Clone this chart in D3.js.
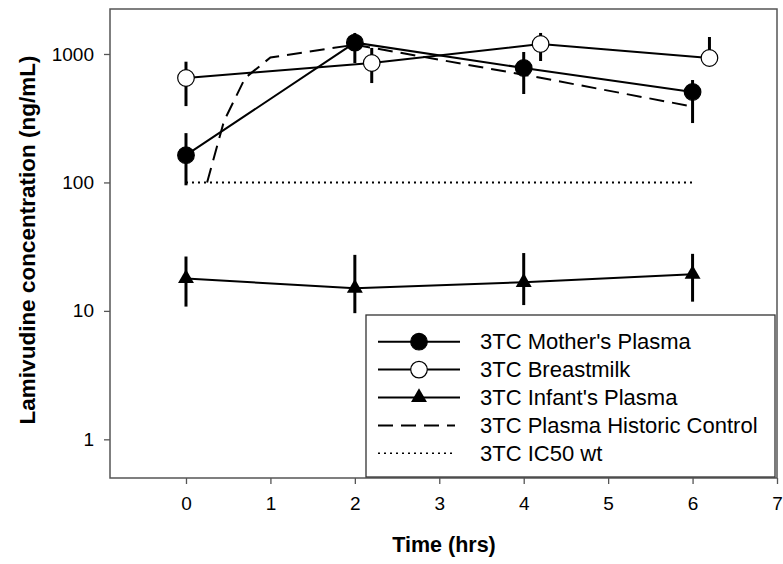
<!DOCTYPE html>
<html>
<head>
<meta charset="utf-8">
<script src="https://cdn.jsdelivr.net/npm/d3@7"></script>
<style>
  body { margin: 0; background: #fff; }
  svg { font-family: "Liberation Sans", Arial, sans-serif; }
</style>
</head>
<body>
<div id="chart"></div>
<script>
// values (ng/mL)
var motherTime = [0, 2, 4, 6],
    motherVals = [163, 1225, 778, 506],
    motherHi = [242, 1458, 1036, 627],
    motherLo = [95, 851, 488, 290];

var breastTime = [0, 2.2, 4.2, 6.2],
    breastVals = [650, 851, 1197, 931],
    breastHi = [871, 1114, 1458, 1356],
    breastLo = [393, 594, 882, 880];

var infantTime = [0, 2, 4, 6],
    infantVals = [17.9, 15.0, 16.7, 19.3],
    infantHi = [26.5, 27.3, 28.2, 27.8],
    infantLo = [10.8, 9.6, 11.1, 11.8];

var historicTime = [0.25, 0.45, 0.7, 1, 2, 4, 6],
    historicVals = [100, 300, 650, 940, 1180, 690, 390];

var ic50Time = [0, 6],
    ic50Vals = [100, 100];

var xTicks = [0, 1, 2, 3, 4, 5, 6, 7],
    yTicks = [1, 10, 100, 1000];

var legendLabels = ["3TC Mother's Plasma", "3TC Breastmilk", "3TC Infant's Plasma",
                    "3TC Plasma Historic Control", "3TC IC50 wt"];

var width = 783,
    height = 564,
    margin = {top: 9, right: 6, bottom: 86, left: 110};

var svg = d3.select("#chart").append("svg")
    .attr("width", width)
    .attr("height", height);

var x = d3.scaleLinear()
    .domain([-0.9, 7])
    .range([margin.left, width - margin.right]);

var y = d3.scaleLog()
    .domain([0.5, 2240])
    .range([height - margin.bottom, margin.top]);

// axes
let xAxis = (g) => g
    .attr("transform", `translate(0, ${height - margin.bottom})`)
    .call(d3.axisBottom(x).tickValues(xTicks).tickFormat(d3.format("d")).tickSize(6).tickPadding(13))
    .call(g => g.select(".domain").remove());

let yAxis = (g) => g
    .attr("transform", `translate(${margin.left}, 0)`)
    .call(d3.axisLeft(y).tickValues(yTicks).tickFormat(d3.format("d")).tickSize(6).tickPadding(10))
    .call(g => g.select(".domain").remove());

svg.append("g").call(xAxis);
svg.append("g").call(yAxis);

svg.selectAll(".tick line").attr("stroke", "#555").attr("stroke-width", 1.3);
svg.selectAll(".tick text")
    .attr("fill", "#000")
    .style("font-size", "19px")
    .style("font-family", "'Liberation Sans', Arial, sans-serif");

// frame
svg.append("rect")
    .attr("x", margin.left)
    .attr("y", margin.top)
    .attr("width", width - margin.right - margin.left)
    .attr("height", height - margin.bottom - margin.top)
    .attr("fill", "none")
    .attr("stroke", "#555")
    .attr("stroke-width", 1.5);

// axis labels
svg.append("text")
    .attr("transform", `translate(444, 552)`)
    .style("text-anchor", "middle")
    .style("font-size", "21.5px")
    .style("font-weight", "bold")
    .text("Time (hrs)");

svg.append("text")
    .attr("transform", `translate(35, 240) rotate(-90)`)
    .style("text-anchor", "middle")
    .style("font-size", "22.5px")
    .style("font-weight", "bold")
    .text("Lamivudine concentration (ng/mL)");

let line = d3.line().x(d => x(d[0])).y(d => y(d[1]));
let zip = (a, b) => a.map((v, i) => [v, b[i]]);

let plot = svg.append("g");

// reference lines
plot.append("path")
    .datum(zip(ic50Time, ic50Vals))
    .attr("d", line)
    .attr("fill", "none")
    .attr("stroke", "#000")
    .attr("stroke-width", 2)
    .attr("stroke-dasharray", "2,4");

plot.append("path")
    .datum(zip(historicTime, historicVals))
    .attr("d", line)
    .attr("fill", "none")
    .attr("stroke", "#000")
    .attr("stroke-width", 2)
    .attr("stroke-dasharray", "15,8");

let triangle = d3.symbol().type(d3.symbolTriangle).size(110);

let drawSeries = (times, vals, lo, hi, marker) => {
    let pts = zip(times, vals);
    plot.append("path")
        .datum(pts)
        .attr("d", line)
        .attr("fill", "none")
        .attr("stroke", "#000")
        .attr("stroke-width", 2);

    plot.append("g").selectAll("line")
        .data(times)
        .join("line")
        .attr("x1", d => x(d))
        .attr("x2", d => x(d))
        .attr("y1", (d, i) => y(lo[i]))
        .attr("y2", (d, i) => y(hi[i]))
        .attr("stroke", "#000")
        .attr("stroke-width", 3);

    let g = plot.append("g");
    if (marker == "triangle") {
        g.selectAll("path")
            .data(pts)
            .join("path")
            .attr("d", triangle)
            .attr("transform", d => `translate(${x(d[0])}, ${y(d[1])})`)
            .attr("fill", "#000");
    } else {
        g.selectAll("circle")
            .data(pts)
            .join("circle")
            .attr("cx", d => x(d[0]))
            .attr("cy", d => y(d[1]))
            .attr("r", 8.3)
            .attr("fill", marker == "filled" ? "#000" : "#fff")
            .attr("stroke", "#000")
            .attr("stroke-width", 1.2);
    }
};

drawSeries(breastTime, breastVals, breastLo, breastHi, "open");
drawSeries(motherTime, motherVals, motherLo, motherHi, "filled");
drawSeries(infantTime, infantVals, infantLo, infantHi, "triangle");

// legend
let legend = svg.append("g");
legend.append("rect")
    .attr("x", 366)
    .attr("y", 315)
    .attr("width", 409)
    .attr("height", 162)
    .attr("fill", "#fff")
    .attr("stroke", "#333")
    .attr("stroke-width", 1.3);

let rowY = (i) => 341.7 + i * 27.9;

legendLabels.forEach((label, i) => {
    let row = legend.append("g").attr("transform", `translate(0, ${rowY(i)})`);
    let ln = row.append("line")
        .attr("x1", 378).attr("x2", i < 3 ? 460 : 455)
        .attr("y1", 0).attr("y2", 0)
        .attr("stroke", "#000")
        .attr("stroke-width", 2);
    if (i == 3) ln.attr("stroke-dasharray", "15,8");
    if (i == 4) ln.attr("stroke-width", 1.5).attr("stroke-dasharray", "2,4");
    if (i == 0 || i == 1) {
        row.append("circle")
            .attr("cx", 419).attr("cy", 0).attr("r", 8.3)
            .attr("fill", i == 0 ? "#000" : "#fff")
            .attr("stroke", "#000").attr("stroke-width", 1.2);
    }
    if (i == 2) {
        row.append("path")
            .attr("d", triangle)
            .attr("transform", "translate(419, 0)")
            .attr("fill", "#000");
    }
    row.append("text")
        .attr("x", 480)
        .attr("y", 0)
        .attr("dy", "0.35em")
        .style("font-size", "22px")
        .text(label);
});
</script>
</body>
</html>
